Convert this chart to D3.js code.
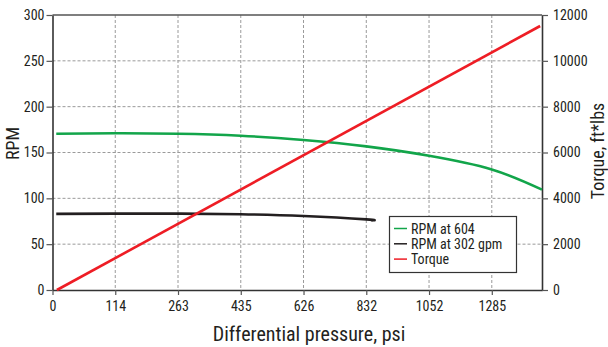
<!DOCTYPE html>
<html><head><meta charset="utf-8">
<script src="https://cdn.jsdelivr.net/npm/d3@7"></script>
<style>
body{margin:0;background:#fff;}
text{font-family:"Liberation Sans Narrow","Roboto Condensed","Liberation Sans",Arial,sans-serif;fill:#231f20;}
</style></head><body>
<svg id="c" width="608" height="347"></svg>
<script>
// x positions are tick indices (evenly spaced gridlines with pressure labels)
const xTickLabels = ["0","114","263","435","626","832","1052","1285"];
const rpmTicks = [0,50,100,150,200,250,300];
const torqueTicks = [0,2000,4000,6000,8000,10000,12000];
const rpm604X = [0.06,1,2,3,4,5,6,7,7.8];
const rpm604Y = [170.5,171,170.5,168.3,163.6,156.7,146.5,131.5,109.5];
const rpm302X = [0.06,1,2,3,4,5,5.08];
const rpm302Y = [83,83.3,83.3,82.6,80.7,77,76];
const torqueX = [0.07,7.77];
const torqueY = [0,11520];
const legendLabels = ["RPM at 604","RPM at 302 gpm","Torque"];
const colors = ["#12a54a","#231f20","#ee1d25"];

const svg = d3.select("#c");
const L=52.5, R=542, T=15, B=290;
const x = d3.scaleLinear().domain([0,7.8]).range([L,R]);
const y = d3.scaleLinear().domain([0,300]).range([B,T]);
const y2 = d3.scaleLinear().domain([0,12000]).range([B,T]);

// grid
const g = svg.append("g");
g.selectAll(".vg").data(d3.range(1,8)).join("line")
  .attr("x1",d=>x(d)).attr("x2",d=>x(d)).attr("y1",T).attr("y2",B)
  .attr("stroke","#9a9a9a").attr("stroke-width",1).attr("stroke-dasharray","3,2");
g.selectAll(".hg").data(rpmTicks.slice(1,-1)).join("line")
  .attr("x1",L).attr("x2",R).attr("y1",d=>y(d)).attr("y2",d=>y(d))
  .attr("stroke","#9a9a9a").attr("stroke-width",1).attr("stroke-dasharray","3,2");
// top border
svg.append("line").attr("x1",L).attr("x2",R).attr("y1",T).attr("y2",T).attr("stroke","#555").attr("stroke-width",1.5);

function styleAxis(a){
  a.select(".domain").attr("stroke","#333").attr("stroke-width",1.6);
  a.selectAll(".tick line").attr("stroke","#555").attr("stroke-width",1.2);
  a.selectAll(".tick text").attr("font-size","14px").attr("fill","#231f20")
   .attr("font-family",'"Liberation Sans Narrow","Roboto Condensed","Liberation Sans",Arial,sans-serif');
}
const xa = svg.append("g").attr("transform",`translate(0,${B})`)
  .call(d3.axisBottom(x).tickValues(d3.range(0,8)).tickFormat(i=>xTickLabels[i]).tickSize(5).tickSizeOuter(0).tickPadding(6));
styleAxis(xa);
const ya = svg.append("g").attr("transform",`translate(${L},0)`)
  .call(d3.axisLeft(y).tickValues(rpmTicks).tickSize(6).tickSizeOuter(0).tickPadding(2));
styleAxis(ya);
const y2a = svg.append("g").attr("transform",`translate(${R},0)`)
  .call(d3.axisRight(y2).tickValues(torqueTicks).tickFormat(d3.format("d")).tickSize(6).tickSizeOuter(0).tickPadding(5));
styleAxis(y2a);

// lines
const line = d3.line().curve(d3.curveNatural);
const s1 = rpm604X.map((v,i)=>[x(v),y(rpm604Y[i])]);
const s2 = rpm302X.map((v,i)=>[x(v),y(rpm302Y[i])]);
const s3 = torqueX.map((v,i)=>[x(v),y2(torqueY[i])]);
[[s1,colors[0]],[s2,colors[1]],[s3,colors[2]]].forEach(([pts,c])=>{
  svg.append("path").attr("d",line(pts)).attr("fill","none").attr("stroke",c).attr("stroke-width",2.6);
});

// legend
const lg = svg.append("g");
lg.append("rect").attr("x",389.5).attr("y",216.5).attr("width",127).attr("height",56)
  .attr("fill","#fff").attr("stroke","#333").attr("stroke-width",1.2);
legendLabels.forEach((t,i)=>{
  const yy = 228.5 + i*15.3;
  lg.append("line").attr("x1",394).attr("x2",407).attr("y1",yy).attr("y2",yy).attr("stroke",colors[i]).attr("stroke-width",1.5);
  lg.append("text").attr("x",411).attr("y",yy+5).attr("font-size","14px").text(t);
});

// axis titles
svg.append("text").attr("x",309).attr("y",341).attr("text-anchor","middle").attr("font-size","20px").text("Differential pressure, psi");
svg.append("text").attr("transform","translate(19,143.5) rotate(-90)").attr("text-anchor","middle").attr("font-size","18px").text("RPM");
svg.append("text").attr("transform","translate(604,151) rotate(-90)").attr("text-anchor","middle").attr("font-size","18px").text("Torque, ft*lbs");
</script></body></html>
